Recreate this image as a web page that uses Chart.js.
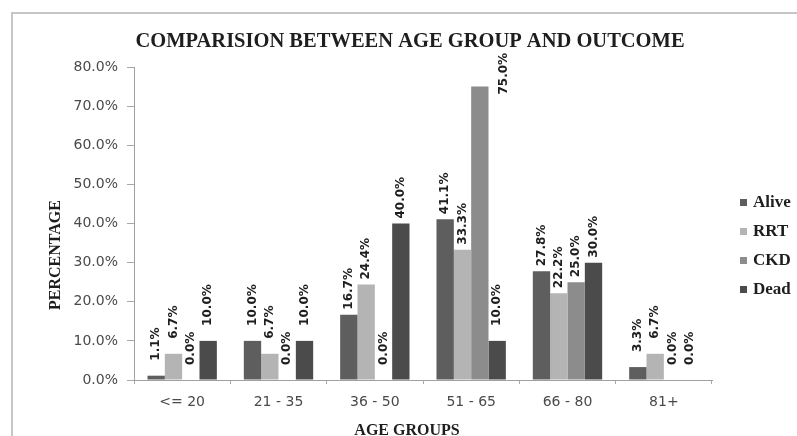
<!DOCTYPE html>
<html>
<head>
<meta charset="utf-8">
<script src="https://cdn.jsdelivr.net/npm/chart.js@4.4.1/dist/chart.umd.min.js"></script>
<style>
  html, body { margin: 0; padding: 0; background: #fff; }
  #wrap { width: 797px; height: 436px; }
</style>
</head>
<body>
<div id="wrap"><canvas id="outcomeChart" width="797" height="436"></canvas></div>
<script>
    'use strict';

    var ageGroups = ['<= 20', '21 - 35', '36 - 50', '51 - 65', '66 - 80', '81+'];
    var alive = [1.1, 10.0, 16.7, 41.1, 27.8, 3.3];
    var rrt = [6.7, 6.7, 24.4, 33.3, 22.2, 6.7];
    var ckd = [0.0, 0.0, 0.0, 75.0, 25.0, 0.0];
    var dead = [10.0, 10.0, 40.0, 10.0, 30.0, 0.0];
    var yTicks = [0, 10, 20, 30, 40, 50, 60, 70, 80];

    var serif = '"Liberation Serif", "Times New Roman", serif';
    var sans = '"DejaVu Sans", sans-serif';

    // frame, titles and legend drawn around the bars
    var decorations = {
        id: 'decorations',
        beforeDraw: function (chart) {
            var ctx = chart.ctx;
            ctx.save();
            ctx.strokeStyle = '#c6c6c6';
            ctx.lineWidth = 2;
            ctx.strokeRect(12, 13, 820, 460);
            ctx.restore();
        },
        afterDraw: function (chart) {
            var ctx = chart.ctx;
            var area = chart.chartArea;
            ctx.save();
            ctx.fillStyle = '#1e1e1e';
            ctx.textAlign = 'center';
            ctx.textBaseline = 'alphabetic';

            ctx.font = 'bold 20.5px ' + serif;
            ctx.fillText('COMPARISION BETWEEN AGE GROUP AND OUTCOME', 410, 47);

            ctx.font = 'bold 16px ' + serif;
            ctx.fillText('AGE GROUPS', 407, 435);

            ctx.save();
            ctx.translate(60, 255);
            ctx.rotate(-Math.PI / 2);
            ctx.fillText('PERCENTAGE', 0, 0);
            ctx.restore();

            // legend
            ctx.font = 'bold 17px ' + serif;
            ctx.textAlign = 'left';
            ctx.textBaseline = 'middle';
            chart.data.datasets.forEach(function (ds, i) {
                var y = 203 + i * 29;
                ctx.fillStyle = ds.backgroundColor;
                ctx.fillRect(area.right + 28, y - 4, 7, 7);
                ctx.fillStyle = '#1e1e1e';
                ctx.fillText(ds.label, area.right + 41, y);
            });
            ctx.restore();
        }
    };

    // rotated value labels above each bar
    var valueLabels = {
        id: 'valueLabels',
        afterDatasetsDraw: function (chart) {
            var ctx = chart.ctx;
            var area = chart.chartArea;
            ctx.save();
            ctx.font = 'bold 12px ' + sans;
            ctx.fillStyle = '#1e1e1e';
            ctx.textAlign = 'left';
            ctx.textBaseline = 'middle';
            chart.data.datasets.forEach(function (ds, i) {
                var meta = chart.getDatasetMeta(i);
                meta.data.forEach(function (bar, j) {
                    var v = ds.data[j];
                    var text = v.toFixed(1) + '%';
                    var w = ctx.measureText(text).width;
                    var gap = v <= 12 ? 15 : 5;
                    var x = bar.x;
                    var y = bar.y - gap;
                    if (y - w < area.top - 10) {
                        // too tall: put it beside the bar
                        x = bar.x + bar.width / 2 + 15;
                        y = bar.y + 8;
                    }
                    ctx.save();
                    ctx.translate(x, y);
                    ctx.rotate(-Math.PI / 2);
                    ctx.fillText(text, 0, 0);
                    ctx.restore();
                });
            });
            ctx.restore();
        }
    };

    var ctx = document.getElementById('outcomeChart').getContext('2d');
    new Chart(ctx, {
        type: 'bar',
        data: {
            labels: ageGroups,
            datasets: [
                { label: 'Alive', data: alive, backgroundColor: '#5e5e5e' },
                { label: 'RRT', data: rrt, backgroundColor: '#b4b4b4' },
                { label: 'CKD', data: ckd, backgroundColor: '#8c8c8c' },
                { label: 'Dead', data: dead, backgroundColor: '#4b4b4b' }
            ]
        },
        options: {
            responsive: false,
            animation: false,
            devicePixelRatio: 1,
            layout: { padding: { left: 0, right: 85, top: 67, bottom: 0 } },
            datasets: {
                bar: { categoryPercentage: 0.72, barPercentage: 1.0 }
            },
            plugins: {
                legend: { display: false },
                title: { display: false },
                tooltip: { enabled: false }
            },
            scales: {
                x: {
                    afterFit: function (scale) { scale.height = 56; },
                    grid: {
                        display: true,
                        drawOnChartArea: false,
                        offset: true,
                        tickLength: 4,
                        color: '#a8a8a8'
                    },
                    border: { display: true, color: '#a0a0a0', width: 1 },
                    ticks: {
                        color: '#4a4a4a',
                        padding: 10,
                        font: { family: sans, size: 14 }
                    }
                },
                y: {
                    min: 0,
                    max: 80,
                    afterFit: function (scale) { scale.width = 134; },
                    afterBuildTicks: function (scale) {
                        scale.ticks = yTicks.map(function (v) { return { value: v }; });
                    },
                    grid: {
                        display: true,
                        drawOnChartArea: false,
                        tickLength: 7,
                        color: '#a8a8a8'
                    },
                    border: { display: true, color: '#a0a0a0', width: 1 },
                    ticks: {
                        color: '#4a4a4a',
                        padding: 9,
                        font: { family: sans, size: 14 },
                        callback: function (v) { return v.toFixed(1) + '%'; }
                    }
                }
            }
        },
        plugins: [decorations, valueLabels]
    });
</script>
</body>
</html>
